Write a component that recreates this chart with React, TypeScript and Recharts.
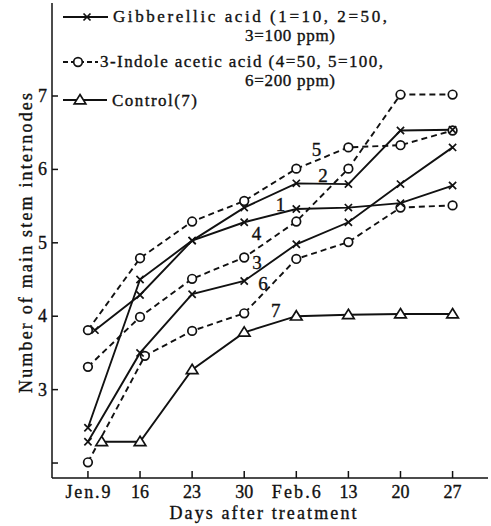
import React from "react";
import { LineChart, Line, XAxis, YAxis, ReferenceDot } from "recharts";

// days after Jan 9 treatment
const days = [0, 7, 14, 21, 28, 35, 42, 49];
const dayLabels = ["Jen.9", "16", "23", "30", "Feb.6", "13", "20", "27"];
const yTicks = [2, 3, 4, 5, 6, 7];

// the print nudges a few overlapping markers sideways
const ga10Days = [0.94, 7, 14, 21, 28, 35, 42, 49];
const iaa200Days = [0, 7.65, 14, 21, 28, 35, 42, 49];
const controlDays = [1.84, 7, 14, 21, 28, 35, 42, 49];

// gibberellic acid 10 / 50 / 100 ppm
const ga10 = [3.81, 4.29, 5.03, 5.28, 5.46, 5.48, 5.54, 5.78];
const ga50 = [2.48, 4.5, 5.03, 5.48, 5.81, 5.8, 6.53, 6.54];
const ga100 = [2.29, 3.5, 4.3, 4.48, 4.98, 5.28, 5.8, 6.3];
// 3-indole acetic acid 50 / 100 / 200 ppm
const iaa50 = [3.31, 3.99, 4.51, 4.8, 5.29, 6.01, 7.02, 7.02];
const iaa100 = [3.81, 4.79, 5.29, 5.57, 6.01, 6.3, 6.33, 6.53];
const iaa200 = [2.01, 3.46, 3.8, 4.04, 4.78, 5.01, 5.48, 5.51];
const control = [2.29, 2.29, 3.27, 3.78, 4.0, 4.02, 4.03, 4.03];

// numbers written next to the lines
const lineTags = [
  { tag: "1", day: 25.87, value: 5.52 },
  { tag: "2", day: 31.58, value: 5.92 },
  { tag: "3", day: 22.72, value: 4.74 },
  { tag: "4", day: 22.64, value: 5.13 },
  { tag: "5", day: 30.7, value: 6.27 },
  { tag: "6", day: 23.53, value: 4.45 },
  { tag: "7", day: 25.23, value: 4.08 },
];

const series = (xs: number[], ys: number[]) => xs.map((d, i) => ({ day: d, v: ys[i] }));

const FONT = '"Liberation Serif", "Times New Roman", serif';
const INK = "#111";
const TXT_STROKE = 0.35; // thickens the thin serif a little, like the print

const CrossDot = (p: any) => {
  const { cx, cy, index } = p;
  if (cx == null || cy == null) return <g key={index} />;
  const s = 3.6;
  return (
    <path
      key={index}
      d={`M${cx - s},${cy - s}L${cx + s},${cy + s}M${cx - s},${cy + s}L${cx + s},${cy - s}`}
      stroke={INK}
      strokeWidth={1.7}
    />
  );
};

const CircleDot = (p: any) => {
  const { cx, cy, index } = p;
  if (cx == null || cy == null) return <g key={index} />;
  return <circle key={index} cx={cx} cy={cy} r={4.3} fill="#fff" stroke={INK} strokeWidth={1.7} />;
};

const TriDot = (p: any) => {
  const { cx, cy, index } = p;
  if (cx == null || cy == null) return <g key={index} />;
  return (
    <path
      key={index}
      d={`M${cx},${cy - 5.5}L${cx + 5.8},${cy + 3.8}L${cx - 5.8},${cy + 3.8}Z`}
      fill="#fff"
      stroke={INK}
      strokeWidth={1.7}
    />
  );
};

// x tick with the wide print spacing on the month labels
const DayTick = (p: any) => {
  const { x, y, payload } = p;
  const label = dayLabels[days.indexOf(payload.value)] ?? "";
  const wide = label.includes(".");
  return (
    <text
      x={x}
      y={y + 12}
      textAnchor="middle"
      fontFamily={FONT}
      fontSize={18}
      fill={INK}
      stroke={INK}
      strokeWidth={TXT_STROKE}
      {...(wide ? { textLength: label === "Jen.9" ? 45 : 49, lengthAdjust: "spacing" } : {})}
    >
      {label}
    </text>
  );
};

const ValueTick = (p: any) => {
  const { x, y, payload } = p;
  if (payload.value === 2) return <g />;
  return (
    <text x={x} y={y + 6} textAnchor="end" fontFamily={FONT} fontSize={18} fill={INK} stroke={INK} strokeWidth={TXT_STROKE}>
      {payload.value}
    </text>
  );
};

const legendRows = [
  { text: "Gibberellic acid (1=10, 2=50,", x: 113, y: 22, len: 274, anchor: "start" },
  { text: "3=100 ppm)", x: 335, y: 41, len: 90, anchor: "end" },
  { text: "3-Indole acetic acid (4=50, 5=100,", x: 100, y: 67, len: 283, anchor: "start" },
  { text: "6=200 ppm)", x: 335, y: 86, len: 90, anchor: "end" },
  { text: "Control(7)", x: 112, y: 106, len: 85, anchor: "start" },
];

function Overlay() {
  return (
    <svg width={491} height={526} style={{ position: "absolute", left: 0, top: 0, pointerEvents: "none" }}>
      {/* legend keys */}
      <line x1={63} y1={17} x2={108} y2={17} stroke={INK} strokeWidth={1.9} />
      <path d="M83.5,13.5L90.5,20.5M83.5,20.5L90.5,13.5" stroke={INK} strokeWidth={1.7} />
      <line x1={63} y1={62} x2={98} y2={62} stroke={INK} strokeWidth={1.9} strokeDasharray="5 3" />
      <circle cx={78} cy={62} r={4.3} fill="#fff" stroke={INK} strokeWidth={1.7} />
      <line x1={63} y1={100} x2={107} y2={100} stroke={INK} strokeWidth={1.9} />
      <path d="M80,94.5L85.8,103.8L74.2,103.8Z" fill="#fff" stroke={INK} strokeWidth={1.7} />
      {legendRows.map((r) => (
        <text
          key={r.text}
          x={r.x}
          y={r.y}
          textAnchor={r.anchor}
          textLength={r.len}
          lengthAdjust="spacing"
          fontFamily={FONT}
          fontSize={17}
          fill={INK}
          stroke={INK}
          strokeWidth={TXT_STROKE}
        >
          {r.text}
        </text>
      ))}
      {/* axis titles */}
      <text
        transform="translate(32,243) rotate(-90)"
        textAnchor="middle"
        textLength={300}
        lengthAdjust="spacing"
        fontFamily={FONT}
        fontSize={18}
        fill={INK}
        stroke={INK}
        strokeWidth={TXT_STROKE}
      >
        Number of main stem internodes
      </text>
      <text
        x={263}
        y={519}
        textAnchor="middle"
        textLength={187}
        lengthAdjust="spacing"
        fontFamily={FONT}
        fontSize={18}
        fill={INK}
        stroke={INK}
        strokeWidth={TXT_STROKE}
      >
        Days after treatment
      </text>
    </svg>
  );
}

const solid = { stroke: INK, strokeWidth: 1.9, isAnimationActive: false };
const dashed = { ...solid, strokeDasharray: "6 4" };

export default function App() {
  return (
    <div style={{ position: "absolute", left: 0, top: 0, width: 491, height: 526, background: "#fff" }}>
      <LineChart width={491} height={526} margin={{ top: 3, right: 3, left: 0, bottom: 0 }}>
        <XAxis
          dataKey="day"
          type="number"
          domain={[-4.83, 53.76]}
          ticks={days}
          height={48}
          tickSize={-7}
          tickMargin={15}
          stroke={INK}
          strokeWidth={1.5}
          tick={DayTick}
          interval={0}
          allowDataOverflow
        />
        <XAxis xAxisId="top" orientation="top" height={0} tick={false} tickLine={false} stroke={INK} strokeWidth={1.5} />
        <YAxis
          type="number"
          domain={[1.796, 8.267]}
          ticks={yTicks}
          width={52}
          tickSize={-6}
          tickMargin={11}
          stroke={INK}
          strokeWidth={1.5}
          tick={ValueTick}
          interval={0}
          allowDataOverflow
        />
        <YAxis yAxisId="right" orientation="right" width={0} tick={false} tickLine={false} stroke={INK} strokeWidth={1.5} />

        <Line data={series(controlDays, control)} dataKey="v" name="control" {...solid} dot={TriDot} />
        <Line data={series(iaa200Days, iaa200)} dataKey="v" name="iaa200" {...dashed} dot={CircleDot} />
        <Line data={series(days, iaa50)} dataKey="v" name="iaa50" {...dashed} dot={CircleDot} />
        <Line data={series(days, iaa100)} dataKey="v" name="iaa100" {...dashed} dot={CircleDot} />
        <Line data={series(days, ga100)} dataKey="v" name="ga100" {...solid} dot={CrossDot} />
        <Line data={series(days, ga50)} dataKey="v" name="ga50" {...solid} dot={CrossDot} />
        <Line data={series(ga10Days, ga10)} dataKey="v" name="ga10" {...solid} dot={CrossDot} />

        {lineTags.map((t) => (
          <ReferenceDot
            key={t.tag}
            x={t.day}
            y={t.value}
            r={0}
            fill="none"
            stroke="none"
            label={{ value: t.tag, position: "center", fontFamily: FONT, fontSize: 19, fill: INK, stroke: INK, strokeWidth: TXT_STROKE }}
          />
        ))}
      </LineChart>
      <Overlay />
    </div>
  );
}
